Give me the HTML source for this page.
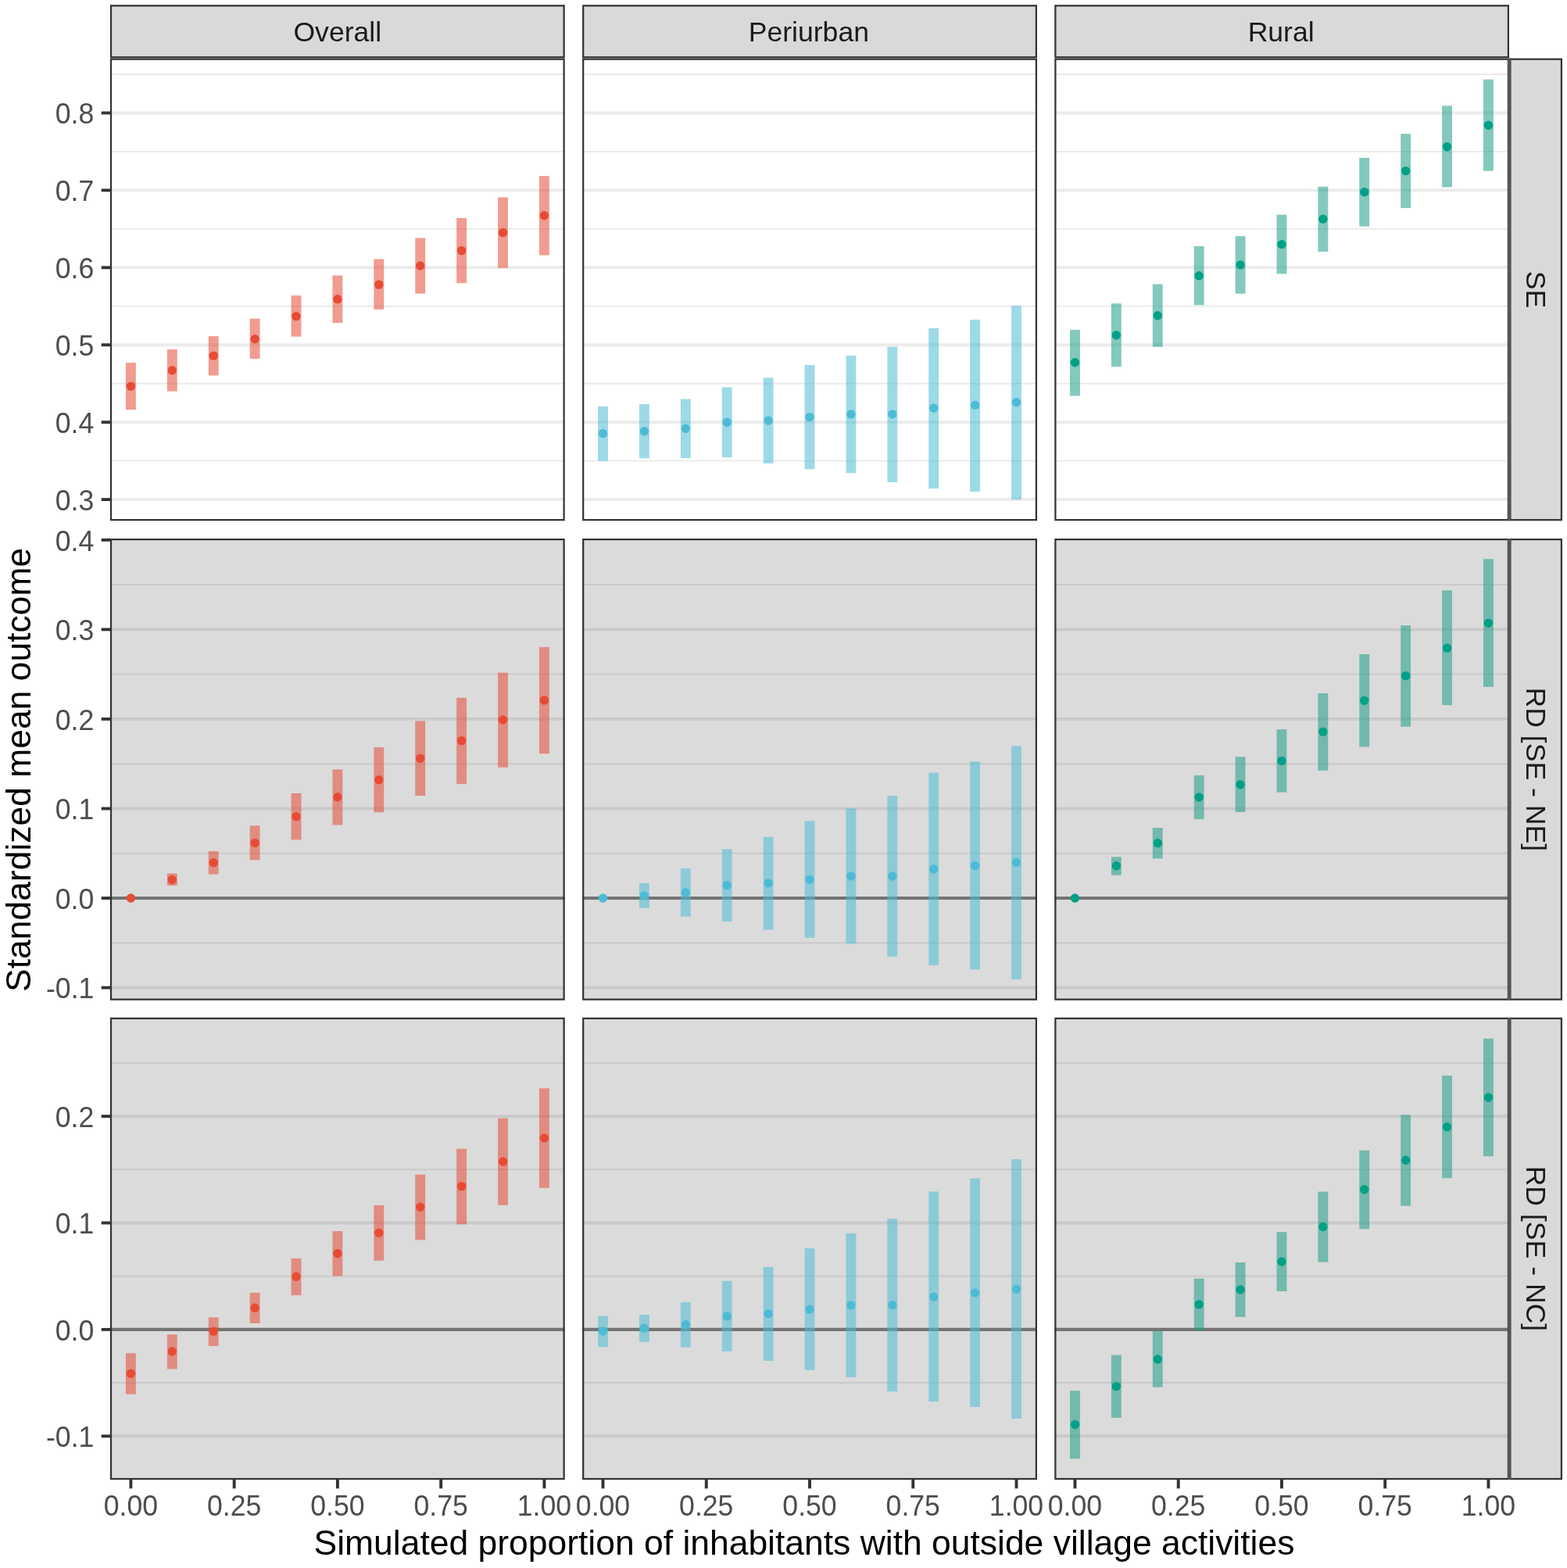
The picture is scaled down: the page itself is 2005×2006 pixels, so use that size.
<!DOCTYPE html>
<html lang="en"><head><meta charset="utf-8"><title>Standardized mean outcome</title>
<style>html,body{margin:0;padding:0;background:#fff}svg{display:block}text{font-family:"Liberation Sans", Arial, Helvetica, sans-serif}</style></head><body>
<svg width="2005" height="2006" viewBox="0 0 2005 2006">
<rect x="0" y="0" width="2005" height="2006" fill="#ffffff"/>
<rect x="140.9" y="6.2" width="581.8" height="68.1" fill="#D9D9D9"/>
<rect x="142" y="7.3" width="579.6" height="65.9" fill="none" stroke="#333333" stroke-width="2.2"/>
<text x="431.8" y="53.3" font-size="35.6" fill="#1A1A1A" text-anchor="middle">Overall</text>
<rect x="745.1" y="6.2" width="581.9" height="68.1" fill="#D9D9D9"/>
<rect x="746.2" y="7.3" width="579.7" height="65.9" fill="none" stroke="#333333" stroke-width="2.2"/>
<text x="1034.85" y="53.3" font-size="35.6" fill="#1A1A1A" text-anchor="middle">Periurban</text>
<rect x="1349.3" y="6.2" width="581.7" height="68.1" fill="#D9D9D9"/>
<rect x="1350.4" y="7.3" width="579.5" height="65.9" fill="none" stroke="#333333" stroke-width="2.2"/>
<text x="1639.15" y="53.3" font-size="35.6" fill="#1A1A1A" text-anchor="middle">Rural</text>
<rect x="1931.2" y="74.6" width="67.8" height="591.65" fill="#D9D9D9"/>
<rect x="1932.3" y="75.7" width="65.6" height="589.45" fill="none" stroke="#333333" stroke-width="2.2"/>
<text transform="translate(1952.8,370.43) rotate(90) scale(1,1.01)" font-size="35.6" fill="#1A1A1A" text-anchor="middle">SE</text>
<rect x="1931.2" y="689" width="67.8" height="590.7" fill="#D9D9D9"/>
<rect x="1932.3" y="690.1" width="65.6" height="588.5" fill="none" stroke="#333333" stroke-width="2.2"/>
<text transform="translate(1952.8,984.35) rotate(90) scale(1,1.01)" font-size="35.6" fill="#1A1A1A" text-anchor="middle">RD [SE - NE]</text>
<rect x="1931.2" y="1301.8" width="67.8" height="591.3" fill="#D9D9D9"/>
<rect x="1932.3" y="1302.9" width="65.6" height="589.1" fill="none" stroke="#333333" stroke-width="2.2"/>
<text transform="translate(1952.8,1597.45) rotate(90) scale(1,1.01)" font-size="35.6" fill="#1A1A1A" text-anchor="middle">RD [SE - NC]</text>
<g>
<line x1="140.9" x2="722.7" y1="95.05" y2="95.05" stroke="#EBEBEB" stroke-width="2.0"/>
<line x1="140.9" x2="722.7" y1="193.96" y2="193.96" stroke="#EBEBEB" stroke-width="2.0"/>
<line x1="140.9" x2="722.7" y1="292.87" y2="292.87" stroke="#EBEBEB" stroke-width="2.0"/>
<line x1="140.9" x2="722.7" y1="391.78" y2="391.78" stroke="#EBEBEB" stroke-width="2.0"/>
<line x1="140.9" x2="722.7" y1="490.7" y2="490.7" stroke="#EBEBEB" stroke-width="2.0"/>
<line x1="140.9" x2="722.7" y1="589.6" y2="589.6" stroke="#EBEBEB" stroke-width="2.0"/>
<line x1="140.9" x2="722.7" y1="144.5" y2="144.5" stroke="#EBEBEB" stroke-width="3.9"/>
<line x1="140.9" x2="722.7" y1="243.41" y2="243.41" stroke="#EBEBEB" stroke-width="3.9"/>
<line x1="140.9" x2="722.7" y1="342.32" y2="342.32" stroke="#EBEBEB" stroke-width="3.9"/>
<line x1="140.9" x2="722.7" y1="441.23" y2="441.23" stroke="#EBEBEB" stroke-width="3.9"/>
<line x1="140.9" x2="722.7" y1="540.14" y2="540.14" stroke="#EBEBEB" stroke-width="3.9"/>
<line x1="140.9" x2="722.7" y1="639.05" y2="639.05" stroke="#EBEBEB" stroke-width="3.9"/>
<rect x="160.95" y="464.1" width="12.9" height="60.1" fill="#E64B35" fill-opacity="0.55"/>
<rect x="213.85" y="447" width="12.9" height="53.6" fill="#E64B35" fill-opacity="0.55"/>
<rect x="266.75" y="430.1" width="12.9" height="50.3" fill="#E64B35" fill-opacity="0.55"/>
<rect x="319.65" y="407.7" width="12.9" height="51.3" fill="#E64B35" fill-opacity="0.55"/>
<rect x="372.55" y="378" width="12.9" height="52.7" fill="#E64B35" fill-opacity="0.55"/>
<rect x="425.45" y="352.45" width="12.9" height="60.55" fill="#E64B35" fill-opacity="0.55"/>
<rect x="478.35" y="331.5" width="12.9" height="64.4" fill="#E64B35" fill-opacity="0.55"/>
<rect x="531.25" y="304.4" width="12.9" height="71.3" fill="#E64B35" fill-opacity="0.55"/>
<rect x="584.15" y="279" width="12.9" height="83.2" fill="#E64B35" fill-opacity="0.55"/>
<rect x="637.05" y="252.4" width="12.9" height="90.3" fill="#E64B35" fill-opacity="0.55"/>
<rect x="689.95" y="225.2" width="12.9" height="101.3" fill="#E64B35" fill-opacity="0.55"/>
<circle cx="167.4" cy="494.1" r="5.7" fill="#E64B35"/>
<circle cx="220.3" cy="473.7" r="5.7" fill="#E64B35"/>
<circle cx="273.2" cy="455.1" r="5.7" fill="#E64B35"/>
<circle cx="326.1" cy="433.8" r="5.7" fill="#E64B35"/>
<circle cx="379" cy="404.6" r="5.7" fill="#E64B35"/>
<circle cx="431.9" cy="382.75" r="5.7" fill="#E64B35"/>
<circle cx="484.8" cy="364.1" r="5.7" fill="#E64B35"/>
<circle cx="537.7" cy="340" r="5.7" fill="#E64B35"/>
<circle cx="590.6" cy="320.6" r="5.7" fill="#E64B35"/>
<circle cx="643.5" cy="297.6" r="5.7" fill="#E64B35"/>
<circle cx="696.4" cy="275.7" r="5.7" fill="#E64B35"/>
<rect x="142" y="75.7" width="579.6" height="589.45" fill="none" stroke="#333333" stroke-width="2.2"/>
</g>
<g>
<line x1="745.1" x2="1327" y1="95.05" y2="95.05" stroke="#EBEBEB" stroke-width="2.0"/>
<line x1="745.1" x2="1327" y1="193.96" y2="193.96" stroke="#EBEBEB" stroke-width="2.0"/>
<line x1="745.1" x2="1327" y1="292.87" y2="292.87" stroke="#EBEBEB" stroke-width="2.0"/>
<line x1="745.1" x2="1327" y1="391.78" y2="391.78" stroke="#EBEBEB" stroke-width="2.0"/>
<line x1="745.1" x2="1327" y1="490.7" y2="490.7" stroke="#EBEBEB" stroke-width="2.0"/>
<line x1="745.1" x2="1327" y1="589.6" y2="589.6" stroke="#EBEBEB" stroke-width="2.0"/>
<line x1="745.1" x2="1327" y1="144.5" y2="144.5" stroke="#EBEBEB" stroke-width="3.9"/>
<line x1="745.1" x2="1327" y1="243.41" y2="243.41" stroke="#EBEBEB" stroke-width="3.9"/>
<line x1="745.1" x2="1327" y1="342.32" y2="342.32" stroke="#EBEBEB" stroke-width="3.9"/>
<line x1="745.1" x2="1327" y1="441.23" y2="441.23" stroke="#EBEBEB" stroke-width="3.9"/>
<line x1="745.1" x2="1327" y1="540.14" y2="540.14" stroke="#EBEBEB" stroke-width="3.9"/>
<line x1="745.1" x2="1327" y1="639.05" y2="639.05" stroke="#EBEBEB" stroke-width="3.9"/>
<rect x="765.05" y="520" width="12.9" height="69.7" fill="#4DBBD5" fill-opacity="0.55"/>
<rect x="817.95" y="517" width="12.9" height="69.3" fill="#4DBBD5" fill-opacity="0.55"/>
<rect x="870.85" y="510.5" width="12.9" height="75.5" fill="#4DBBD5" fill-opacity="0.55"/>
<rect x="923.75" y="495.4" width="12.9" height="89.7" fill="#4DBBD5" fill-opacity="0.55"/>
<rect x="976.65" y="483.3" width="12.9" height="109.5" fill="#4DBBD5" fill-opacity="0.55"/>
<rect x="1029.55" y="467" width="12.9" height="133.3" fill="#4DBBD5" fill-opacity="0.55"/>
<rect x="1082.45" y="454.9" width="12.9" height="150.4" fill="#4DBBD5" fill-opacity="0.55"/>
<rect x="1135.35" y="443.7" width="12.9" height="173.2" fill="#4DBBD5" fill-opacity="0.55"/>
<rect x="1188.25" y="419.9" width="12.9" height="205.2" fill="#4DBBD5" fill-opacity="0.55"/>
<rect x="1241.15" y="408.9" width="12.9" height="220" fill="#4DBBD5" fill-opacity="0.55"/>
<rect x="1294.05" y="391.2" width="12.9" height="247.9" fill="#4DBBD5" fill-opacity="0.55"/>
<circle cx="771.5" cy="554.5" r="5.7" fill="#4DBBD5"/>
<circle cx="824.4" cy="551.7" r="5.7" fill="#4DBBD5"/>
<circle cx="877.3" cy="548.2" r="5.7" fill="#4DBBD5"/>
<circle cx="930.2" cy="540.3" r="5.7" fill="#4DBBD5"/>
<circle cx="983.1" cy="538" r="5.7" fill="#4DBBD5"/>
<circle cx="1036" cy="533.65" r="5.7" fill="#4DBBD5"/>
<circle cx="1088.9" cy="529.9" r="5.7" fill="#4DBBD5"/>
<circle cx="1141.8" cy="529.9" r="5.7" fill="#4DBBD5"/>
<circle cx="1194.7" cy="522.1" r="5.7" fill="#4DBBD5"/>
<circle cx="1247.6" cy="518.4" r="5.7" fill="#4DBBD5"/>
<circle cx="1300.5" cy="514.8" r="5.7" fill="#4DBBD5"/>
<rect x="746.2" y="75.7" width="579.7" height="589.45" fill="none" stroke="#333333" stroke-width="2.2"/>
</g>
<g>
<line x1="1349.3" x2="1931" y1="95.05" y2="95.05" stroke="#EBEBEB" stroke-width="2.0"/>
<line x1="1349.3" x2="1931" y1="193.96" y2="193.96" stroke="#EBEBEB" stroke-width="2.0"/>
<line x1="1349.3" x2="1931" y1="292.87" y2="292.87" stroke="#EBEBEB" stroke-width="2.0"/>
<line x1="1349.3" x2="1931" y1="391.78" y2="391.78" stroke="#EBEBEB" stroke-width="2.0"/>
<line x1="1349.3" x2="1931" y1="490.7" y2="490.7" stroke="#EBEBEB" stroke-width="2.0"/>
<line x1="1349.3" x2="1931" y1="589.6" y2="589.6" stroke="#EBEBEB" stroke-width="2.0"/>
<line x1="1349.3" x2="1931" y1="144.5" y2="144.5" stroke="#EBEBEB" stroke-width="3.9"/>
<line x1="1349.3" x2="1931" y1="243.41" y2="243.41" stroke="#EBEBEB" stroke-width="3.9"/>
<line x1="1349.3" x2="1931" y1="342.32" y2="342.32" stroke="#EBEBEB" stroke-width="3.9"/>
<line x1="1349.3" x2="1931" y1="441.23" y2="441.23" stroke="#EBEBEB" stroke-width="3.9"/>
<line x1="1349.3" x2="1931" y1="540.14" y2="540.14" stroke="#EBEBEB" stroke-width="3.9"/>
<line x1="1349.3" x2="1931" y1="639.05" y2="639.05" stroke="#EBEBEB" stroke-width="3.9"/>
<rect x="1369" y="421.9" width="12.9" height="84.6" fill="#1E9D86" fill-opacity="0.55"/>
<rect x="1421.9" y="388.2" width="12.9" height="80.9" fill="#1E9D86" fill-opacity="0.55"/>
<rect x="1474.8" y="363.6" width="12.9" height="80.2" fill="#1E9D86" fill-opacity="0.55"/>
<rect x="1527.7" y="315" width="12.9" height="75.2" fill="#1E9D86" fill-opacity="0.55"/>
<rect x="1580.6" y="302.1" width="12.9" height="73.6" fill="#1E9D86" fill-opacity="0.55"/>
<rect x="1633.5" y="274.75" width="12.9" height="75.55" fill="#1E9D86" fill-opacity="0.55"/>
<rect x="1686.4" y="238.8" width="12.9" height="83.2" fill="#1E9D86" fill-opacity="0.55"/>
<rect x="1739.3" y="201.9" width="12.9" height="87.8" fill="#1E9D86" fill-opacity="0.55"/>
<rect x="1792.2" y="171.2" width="12.9" height="94.9" fill="#1E9D86" fill-opacity="0.55"/>
<rect x="1845.1" y="135.3" width="12.9" height="104.2" fill="#1E9D86" fill-opacity="0.55"/>
<rect x="1898" y="101.6" width="12.9" height="117.1" fill="#1E9D86" fill-opacity="0.55"/>
<circle cx="1375.45" cy="463.8" r="5.7" fill="#00A087"/>
<circle cx="1428.35" cy="428.7" r="5.7" fill="#00A087"/>
<circle cx="1481.25" cy="403.7" r="5.7" fill="#00A087"/>
<circle cx="1534.15" cy="352.7" r="5.7" fill="#00A087"/>
<circle cx="1587.05" cy="338.9" r="5.7" fill="#00A087"/>
<circle cx="1639.95" cy="312.65" r="5.7" fill="#00A087"/>
<circle cx="1692.85" cy="280.2" r="5.7" fill="#00A087"/>
<circle cx="1745.75" cy="245.8" r="5.7" fill="#00A087"/>
<circle cx="1798.65" cy="218.6" r="5.7" fill="#00A087"/>
<circle cx="1851.55" cy="187.8" r="5.7" fill="#00A087"/>
<circle cx="1904.45" cy="160.3" r="5.7" fill="#00A087"/>
<rect x="1350.4" y="75.7" width="579.5" height="589.45" fill="none" stroke="#333333" stroke-width="2.2"/>
</g>
<line x1="129.7" x2="141.2" y1="144.5" y2="144.5" stroke="#333333" stroke-width="3.9"/>
<text transform="translate(120.3,158.3) scale(1,1.04)" font-size="35.6" fill="#4D4D4D" text-anchor="end">0.8</text>
<line x1="129.7" x2="141.2" y1="243.41" y2="243.41" stroke="#333333" stroke-width="3.9"/>
<text transform="translate(120.3,257.21) scale(1,1.04)" font-size="35.6" fill="#4D4D4D" text-anchor="end">0.7</text>
<line x1="129.7" x2="141.2" y1="342.32" y2="342.32" stroke="#333333" stroke-width="3.9"/>
<text transform="translate(120.3,356.12) scale(1,1.04)" font-size="35.6" fill="#4D4D4D" text-anchor="end">0.6</text>
<line x1="129.7" x2="141.2" y1="441.23" y2="441.23" stroke="#333333" stroke-width="3.9"/>
<text transform="translate(120.3,455.03) scale(1,1.04)" font-size="35.6" fill="#4D4D4D" text-anchor="end">0.5</text>
<line x1="129.7" x2="141.2" y1="540.14" y2="540.14" stroke="#333333" stroke-width="3.9"/>
<text transform="translate(120.3,553.94) scale(1,1.04)" font-size="35.6" fill="#4D4D4D" text-anchor="end">0.4</text>
<line x1="129.7" x2="141.2" y1="639.05" y2="639.05" stroke="#333333" stroke-width="3.9"/>
<text transform="translate(120.3,652.85) scale(1,1.04)" font-size="35.6" fill="#4D4D4D" text-anchor="end">0.3</text>
<g>
<line x1="140.9" x2="722.7" y1="748.1" y2="748.1" stroke="#EBEBEB" stroke-width="2.0"/>
<line x1="140.9" x2="722.7" y1="862.6" y2="862.6" stroke="#EBEBEB" stroke-width="2.0"/>
<line x1="140.9" x2="722.7" y1="977.2" y2="977.2" stroke="#EBEBEB" stroke-width="2.0"/>
<line x1="140.9" x2="722.7" y1="1091.7" y2="1091.7" stroke="#EBEBEB" stroke-width="2.0"/>
<line x1="140.9" x2="722.7" y1="1206.3" y2="1206.3" stroke="#EBEBEB" stroke-width="2.0"/>
<line x1="140.9" x2="722.7" y1="805.35" y2="805.35" stroke="#EBEBEB" stroke-width="3.9"/>
<line x1="140.9" x2="722.7" y1="919.9" y2="919.9" stroke="#EBEBEB" stroke-width="3.9"/>
<line x1="140.9" x2="722.7" y1="1034.45" y2="1034.45" stroke="#EBEBEB" stroke-width="3.9"/>
<line x1="140.9" x2="722.7" y1="1149" y2="1149" stroke="#EBEBEB" stroke-width="3.9"/>
<line x1="140.9" x2="722.7" y1="1263.55" y2="1263.55" stroke="#EBEBEB" stroke-width="3.9"/>
<rect x="140.9" y="689" width="581.8" height="590.7" fill="#000000" fill-opacity="0.14"/>
<line x1="140.9" x2="722.7" y1="1149" y2="1149" stroke="#737373" stroke-width="4.2"/>
<rect x="213.85" y="1117.5" width="12.9" height="15.4" fill="#E64B35" fill-opacity="0.55"/>
<rect x="266.75" y="1089" width="12.9" height="29.6" fill="#E64B35" fill-opacity="0.55"/>
<rect x="319.65" y="1056.3" width="12.9" height="43.8" fill="#E64B35" fill-opacity="0.55"/>
<rect x="372.55" y="1014.9" width="12.9" height="59.5" fill="#E64B35" fill-opacity="0.55"/>
<rect x="425.45" y="984.4" width="12.9" height="71.1" fill="#E64B35" fill-opacity="0.55"/>
<rect x="478.35" y="956.1" width="12.9" height="83.1" fill="#E64B35" fill-opacity="0.55"/>
<rect x="531.25" y="922.4" width="12.9" height="95.6" fill="#E64B35" fill-opacity="0.55"/>
<rect x="584.15" y="892.7" width="12.9" height="110.2" fill="#E64B35" fill-opacity="0.55"/>
<rect x="637.05" y="860.6" width="12.9" height="121.2" fill="#E64B35" fill-opacity="0.55"/>
<rect x="689.95" y="827.8" width="12.9" height="136.4" fill="#E64B35" fill-opacity="0.55"/>
<circle cx="167.4" cy="1149" r="5.7" fill="#E64B35"/>
<circle cx="220.3" cy="1125.5" r="5.7" fill="#E64B35"/>
<circle cx="273.2" cy="1103.6" r="5.7" fill="#E64B35"/>
<circle cx="326.1" cy="1078.4" r="5.7" fill="#E64B35"/>
<circle cx="379" cy="1044.7" r="5.7" fill="#E64B35"/>
<circle cx="431.9" cy="1019.8" r="5.7" fill="#E64B35"/>
<circle cx="484.8" cy="997.6" r="5.7" fill="#E64B35"/>
<circle cx="537.7" cy="970.1" r="5.7" fill="#E64B35"/>
<circle cx="590.6" cy="947.6" r="5.7" fill="#E64B35"/>
<circle cx="643.5" cy="921" r="5.7" fill="#E64B35"/>
<circle cx="696.4" cy="895.9" r="5.7" fill="#E64B35"/>
<rect x="142" y="690.1" width="579.6" height="588.5" fill="none" stroke="#333333" stroke-width="2.2"/>
</g>
<g>
<line x1="745.1" x2="1327" y1="748.1" y2="748.1" stroke="#EBEBEB" stroke-width="2.0"/>
<line x1="745.1" x2="1327" y1="862.6" y2="862.6" stroke="#EBEBEB" stroke-width="2.0"/>
<line x1="745.1" x2="1327" y1="977.2" y2="977.2" stroke="#EBEBEB" stroke-width="2.0"/>
<line x1="745.1" x2="1327" y1="1091.7" y2="1091.7" stroke="#EBEBEB" stroke-width="2.0"/>
<line x1="745.1" x2="1327" y1="1206.3" y2="1206.3" stroke="#EBEBEB" stroke-width="2.0"/>
<line x1="745.1" x2="1327" y1="805.35" y2="805.35" stroke="#EBEBEB" stroke-width="3.9"/>
<line x1="745.1" x2="1327" y1="919.9" y2="919.9" stroke="#EBEBEB" stroke-width="3.9"/>
<line x1="745.1" x2="1327" y1="1034.45" y2="1034.45" stroke="#EBEBEB" stroke-width="3.9"/>
<line x1="745.1" x2="1327" y1="1149" y2="1149" stroke="#EBEBEB" stroke-width="3.9"/>
<line x1="745.1" x2="1327" y1="1263.55" y2="1263.55" stroke="#EBEBEB" stroke-width="3.9"/>
<rect x="745.1" y="689" width="581.9" height="590.7" fill="#000000" fill-opacity="0.14"/>
<line x1="745.1" x2="1327" y1="1149" y2="1149" stroke="#737373" stroke-width="4.2"/>
<rect x="817.95" y="1129.9" width="12.9" height="31.9" fill="#4DBBD5" fill-opacity="0.55"/>
<rect x="870.85" y="1111" width="12.9" height="61.6" fill="#4DBBD5" fill-opacity="0.55"/>
<rect x="923.75" y="1086.4" width="12.9" height="92.6" fill="#4DBBD5" fill-opacity="0.55"/>
<rect x="976.65" y="1070.7" width="12.9" height="118.7" fill="#4DBBD5" fill-opacity="0.55"/>
<rect x="1029.55" y="1050.3" width="12.9" height="149.45" fill="#4DBBD5" fill-opacity="0.55"/>
<rect x="1082.45" y="1034.3" width="12.9" height="173" fill="#4DBBD5" fill-opacity="0.55"/>
<rect x="1135.35" y="1018.1" width="12.9" height="205.6" fill="#4DBBD5" fill-opacity="0.55"/>
<rect x="1188.25" y="988.7" width="12.9" height="246.1" fill="#4DBBD5" fill-opacity="0.55"/>
<rect x="1241.15" y="974.3" width="12.9" height="266" fill="#4DBBD5" fill-opacity="0.55"/>
<rect x="1294.05" y="954.3" width="12.9" height="298.6" fill="#4DBBD5" fill-opacity="0.55"/>
<circle cx="771.5" cy="1149" r="5.7" fill="#4DBBD5"/>
<circle cx="824.4" cy="1145.9" r="5.7" fill="#4DBBD5"/>
<circle cx="877.3" cy="1141.9" r="5.7" fill="#4DBBD5"/>
<circle cx="930.2" cy="1132.7" r="5.7" fill="#4DBBD5"/>
<circle cx="983.1" cy="1129.9" r="5.7" fill="#4DBBD5"/>
<circle cx="1036" cy="1125.2" r="5.7" fill="#4DBBD5"/>
<circle cx="1088.9" cy="1121" r="5.7" fill="#4DBBD5"/>
<circle cx="1141.8" cy="1121" r="5.7" fill="#4DBBD5"/>
<circle cx="1194.7" cy="1111.9" r="5.7" fill="#4DBBD5"/>
<circle cx="1247.6" cy="1107.4" r="5.7" fill="#4DBBD5"/>
<circle cx="1300.5" cy="1103.4" r="5.7" fill="#4DBBD5"/>
<rect x="746.2" y="690.1" width="579.7" height="588.5" fill="none" stroke="#333333" stroke-width="2.2"/>
</g>
<g>
<line x1="1349.3" x2="1931" y1="748.1" y2="748.1" stroke="#EBEBEB" stroke-width="2.0"/>
<line x1="1349.3" x2="1931" y1="862.6" y2="862.6" stroke="#EBEBEB" stroke-width="2.0"/>
<line x1="1349.3" x2="1931" y1="977.2" y2="977.2" stroke="#EBEBEB" stroke-width="2.0"/>
<line x1="1349.3" x2="1931" y1="1091.7" y2="1091.7" stroke="#EBEBEB" stroke-width="2.0"/>
<line x1="1349.3" x2="1931" y1="1206.3" y2="1206.3" stroke="#EBEBEB" stroke-width="2.0"/>
<line x1="1349.3" x2="1931" y1="805.35" y2="805.35" stroke="#EBEBEB" stroke-width="3.9"/>
<line x1="1349.3" x2="1931" y1="919.9" y2="919.9" stroke="#EBEBEB" stroke-width="3.9"/>
<line x1="1349.3" x2="1931" y1="1034.45" y2="1034.45" stroke="#EBEBEB" stroke-width="3.9"/>
<line x1="1349.3" x2="1931" y1="1149" y2="1149" stroke="#EBEBEB" stroke-width="3.9"/>
<line x1="1349.3" x2="1931" y1="1263.55" y2="1263.55" stroke="#EBEBEB" stroke-width="3.9"/>
<rect x="1349.3" y="689" width="581.7" height="590.7" fill="#000000" fill-opacity="0.14"/>
<line x1="1349.3" x2="1931" y1="1149" y2="1149" stroke="#737373" stroke-width="4.2"/>
<rect x="1421.9" y="1096.3" width="12.9" height="23.3" fill="#1E9D86" fill-opacity="0.55"/>
<rect x="1474.8" y="1059" width="12.9" height="39.3" fill="#1E9D86" fill-opacity="0.55"/>
<rect x="1527.7" y="991.9" width="12.9" height="56.1" fill="#1E9D86" fill-opacity="0.55"/>
<rect x="1580.6" y="968.2" width="12.9" height="70.8" fill="#1E9D86" fill-opacity="0.55"/>
<rect x="1633.5" y="933.15" width="12.9" height="80.5" fill="#1E9D86" fill-opacity="0.55"/>
<rect x="1686.4" y="887" width="12.9" height="98.8" fill="#1E9D86" fill-opacity="0.55"/>
<rect x="1739.3" y="837" width="12.9" height="118.5" fill="#1E9D86" fill-opacity="0.55"/>
<rect x="1792.2" y="800.1" width="12.9" height="129.5" fill="#1E9D86" fill-opacity="0.55"/>
<rect x="1845.1" y="755.3" width="12.9" height="146.8" fill="#1E9D86" fill-opacity="0.55"/>
<rect x="1898" y="715.2" width="12.9" height="163.6" fill="#1E9D86" fill-opacity="0.55"/>
<circle cx="1375.45" cy="1149" r="5.7" fill="#00A087"/>
<circle cx="1428.35" cy="1107.7" r="5.7" fill="#00A087"/>
<circle cx="1481.25" cy="1078.6" r="5.7" fill="#00A087"/>
<circle cx="1534.15" cy="1019.9" r="5.7" fill="#00A087"/>
<circle cx="1587.05" cy="1003.7" r="5.7" fill="#00A087"/>
<circle cx="1639.95" cy="973.35" r="5.7" fill="#00A087"/>
<circle cx="1692.85" cy="936.1" r="5.7" fill="#00A087"/>
<circle cx="1745.75" cy="896.2" r="5.7" fill="#00A087"/>
<circle cx="1798.65" cy="864.6" r="5.7" fill="#00A087"/>
<circle cx="1851.55" cy="829.1" r="5.7" fill="#00A087"/>
<circle cx="1904.45" cy="797.25" r="5.7" fill="#00A087"/>
<rect x="1350.4" y="690.1" width="579.5" height="588.5" fill="none" stroke="#333333" stroke-width="2.2"/>
</g>
<line x1="129.7" x2="141.2" y1="690.8" y2="690.8" stroke="#333333" stroke-width="3.9"/>
<text transform="translate(120.3,704.6) scale(1,1.04)" font-size="35.6" fill="#4D4D4D" text-anchor="end">0.4</text>
<line x1="129.7" x2="141.2" y1="805.35" y2="805.35" stroke="#333333" stroke-width="3.9"/>
<text transform="translate(120.3,819.15) scale(1,1.04)" font-size="35.6" fill="#4D4D4D" text-anchor="end">0.3</text>
<line x1="129.7" x2="141.2" y1="919.9" y2="919.9" stroke="#333333" stroke-width="3.9"/>
<text transform="translate(120.3,933.7) scale(1,1.04)" font-size="35.6" fill="#4D4D4D" text-anchor="end">0.2</text>
<line x1="129.7" x2="141.2" y1="1034.45" y2="1034.45" stroke="#333333" stroke-width="3.9"/>
<text transform="translate(120.3,1048.25) scale(1,1.04)" font-size="35.6" fill="#4D4D4D" text-anchor="end">0.1</text>
<line x1="129.7" x2="141.2" y1="1149" y2="1149" stroke="#333333" stroke-width="3.9"/>
<text transform="translate(120.3,1162.8) scale(1,1.04)" font-size="35.6" fill="#4D4D4D" text-anchor="end">0.0</text>
<line x1="129.7" x2="141.2" y1="1263.55" y2="1263.55" stroke="#333333" stroke-width="3.9"/>
<text transform="translate(120.3,1277.35) scale(1,1.04)" font-size="35.6" fill="#4D4D4D" text-anchor="end">-0.1</text>
<g>
<line x1="140.9" x2="722.7" y1="1359.9" y2="1359.9" stroke="#EBEBEB" stroke-width="2.0"/>
<line x1="140.9" x2="722.7" y1="1496.3" y2="1496.3" stroke="#EBEBEB" stroke-width="2.0"/>
<line x1="140.9" x2="722.7" y1="1632.7" y2="1632.7" stroke="#EBEBEB" stroke-width="2.0"/>
<line x1="140.9" x2="722.7" y1="1769.1" y2="1769.1" stroke="#EBEBEB" stroke-width="2.0"/>
<line x1="140.9" x2="722.7" y1="1428.1" y2="1428.1" stroke="#EBEBEB" stroke-width="3.9"/>
<line x1="140.9" x2="722.7" y1="1564.5" y2="1564.5" stroke="#EBEBEB" stroke-width="3.9"/>
<line x1="140.9" x2="722.7" y1="1700.9" y2="1700.9" stroke="#EBEBEB" stroke-width="3.9"/>
<line x1="140.9" x2="722.7" y1="1837.3" y2="1837.3" stroke="#EBEBEB" stroke-width="3.9"/>
<rect x="140.9" y="1301.8" width="581.8" height="591.3" fill="#000000" fill-opacity="0.14"/>
<line x1="140.9" x2="722.7" y1="1700.9" y2="1700.9" stroke="#737373" stroke-width="4.2"/>
<rect x="160.95" y="1731.2" width="12.9" height="52.5" fill="#E64B35" fill-opacity="0.55"/>
<rect x="213.85" y="1707.3" width="12.9" height="44.1" fill="#E64B35" fill-opacity="0.55"/>
<rect x="266.75" y="1685.4" width="12.9" height="36.5" fill="#E64B35" fill-opacity="0.55"/>
<rect x="319.65" y="1653.7" width="12.9" height="39.3" fill="#E64B35" fill-opacity="0.55"/>
<rect x="372.55" y="1609.9" width="12.9" height="47.2" fill="#E64B35" fill-opacity="0.55"/>
<rect x="425.45" y="1575.05" width="12.9" height="57.4" fill="#E64B35" fill-opacity="0.55"/>
<rect x="478.35" y="1542" width="12.9" height="70.7" fill="#E64B35" fill-opacity="0.55"/>
<rect x="531.25" y="1502.6" width="12.9" height="83.7" fill="#E64B35" fill-opacity="0.55"/>
<rect x="584.15" y="1469.8" width="12.9" height="96.5" fill="#E64B35" fill-opacity="0.55"/>
<rect x="637.05" y="1430.6" width="12.9" height="111.1" fill="#E64B35" fill-opacity="0.55"/>
<rect x="689.95" y="1392.3" width="12.9" height="127.4" fill="#E64B35" fill-opacity="0.55"/>
<circle cx="167.4" cy="1757.3" r="5.7" fill="#E64B35"/>
<circle cx="220.3" cy="1729" r="5.7" fill="#E64B35"/>
<circle cx="273.2" cy="1703.1" r="5.7" fill="#E64B35"/>
<circle cx="326.1" cy="1673.3" r="5.7" fill="#E64B35"/>
<circle cx="379" cy="1633.2" r="5.7" fill="#E64B35"/>
<circle cx="431.9" cy="1603.75" r="5.7" fill="#E64B35"/>
<circle cx="484.8" cy="1577.3" r="5.7" fill="#E64B35"/>
<circle cx="537.7" cy="1544.2" r="5.7" fill="#E64B35"/>
<circle cx="590.6" cy="1517.6" r="5.7" fill="#E64B35"/>
<circle cx="643.5" cy="1486" r="5.7" fill="#E64B35"/>
<circle cx="696.4" cy="1456" r="5.7" fill="#E64B35"/>
<rect x="142" y="1302.9" width="579.6" height="589.1" fill="none" stroke="#333333" stroke-width="2.2"/>
</g>
<g>
<line x1="745.1" x2="1327" y1="1359.9" y2="1359.9" stroke="#EBEBEB" stroke-width="2.0"/>
<line x1="745.1" x2="1327" y1="1496.3" y2="1496.3" stroke="#EBEBEB" stroke-width="2.0"/>
<line x1="745.1" x2="1327" y1="1632.7" y2="1632.7" stroke="#EBEBEB" stroke-width="2.0"/>
<line x1="745.1" x2="1327" y1="1769.1" y2="1769.1" stroke="#EBEBEB" stroke-width="2.0"/>
<line x1="745.1" x2="1327" y1="1428.1" y2="1428.1" stroke="#EBEBEB" stroke-width="3.9"/>
<line x1="745.1" x2="1327" y1="1564.5" y2="1564.5" stroke="#EBEBEB" stroke-width="3.9"/>
<line x1="745.1" x2="1327" y1="1700.9" y2="1700.9" stroke="#EBEBEB" stroke-width="3.9"/>
<line x1="745.1" x2="1327" y1="1837.3" y2="1837.3" stroke="#EBEBEB" stroke-width="3.9"/>
<rect x="745.1" y="1301.8" width="581.9" height="591.3" fill="#000000" fill-opacity="0.14"/>
<line x1="745.1" x2="1327" y1="1700.9" y2="1700.9" stroke="#737373" stroke-width="4.2"/>
<rect x="765.05" y="1683.7" width="12.9" height="39.6" fill="#4DBBD5" fill-opacity="0.55"/>
<rect x="817.95" y="1682.1" width="12.9" height="34.7" fill="#4DBBD5" fill-opacity="0.55"/>
<rect x="870.85" y="1666" width="12.9" height="57.6" fill="#4DBBD5" fill-opacity="0.55"/>
<rect x="923.75" y="1638.8" width="12.9" height="90.1" fill="#4DBBD5" fill-opacity="0.55"/>
<rect x="976.65" y="1620.9" width="12.9" height="120" fill="#4DBBD5" fill-opacity="0.55"/>
<rect x="1029.55" y="1597" width="12.9" height="155.8" fill="#4DBBD5" fill-opacity="0.55"/>
<rect x="1082.45" y="1577.8" width="12.9" height="184.1" fill="#4DBBD5" fill-opacity="0.55"/>
<rect x="1135.35" y="1559.1" width="12.9" height="221.1" fill="#4DBBD5" fill-opacity="0.55"/>
<rect x="1188.25" y="1524.4" width="12.9" height="268.7" fill="#4DBBD5" fill-opacity="0.55"/>
<rect x="1241.15" y="1507.5" width="12.9" height="292.5" fill="#4DBBD5" fill-opacity="0.55"/>
<rect x="1294.05" y="1483.1" width="12.9" height="331.8" fill="#4DBBD5" fill-opacity="0.55"/>
<circle cx="771.5" cy="1703" r="5.7" fill="#4DBBD5"/>
<circle cx="824.4" cy="1699.2" r="5.7" fill="#4DBBD5"/>
<circle cx="877.3" cy="1694.7" r="5.7" fill="#4DBBD5"/>
<circle cx="930.2" cy="1684" r="5.7" fill="#4DBBD5"/>
<circle cx="983.1" cy="1680.7" r="5.7" fill="#4DBBD5"/>
<circle cx="1036" cy="1675.15" r="5.7" fill="#4DBBD5"/>
<circle cx="1088.9" cy="1669.9" r="5.7" fill="#4DBBD5"/>
<circle cx="1141.8" cy="1669.5" r="5.7" fill="#4DBBD5"/>
<circle cx="1194.7" cy="1659.2" r="5.7" fill="#4DBBD5"/>
<circle cx="1247.6" cy="1654" r="5.7" fill="#4DBBD5"/>
<circle cx="1300.5" cy="1649.2" r="5.7" fill="#4DBBD5"/>
<rect x="746.2" y="1302.9" width="579.7" height="589.1" fill="none" stroke="#333333" stroke-width="2.2"/>
</g>
<g>
<line x1="1349.3" x2="1931" y1="1359.9" y2="1359.9" stroke="#EBEBEB" stroke-width="2.0"/>
<line x1="1349.3" x2="1931" y1="1496.3" y2="1496.3" stroke="#EBEBEB" stroke-width="2.0"/>
<line x1="1349.3" x2="1931" y1="1632.7" y2="1632.7" stroke="#EBEBEB" stroke-width="2.0"/>
<line x1="1349.3" x2="1931" y1="1769.1" y2="1769.1" stroke="#EBEBEB" stroke-width="2.0"/>
<line x1="1349.3" x2="1931" y1="1428.1" y2="1428.1" stroke="#EBEBEB" stroke-width="3.9"/>
<line x1="1349.3" x2="1931" y1="1564.5" y2="1564.5" stroke="#EBEBEB" stroke-width="3.9"/>
<line x1="1349.3" x2="1931" y1="1700.9" y2="1700.9" stroke="#EBEBEB" stroke-width="3.9"/>
<line x1="1349.3" x2="1931" y1="1837.3" y2="1837.3" stroke="#EBEBEB" stroke-width="3.9"/>
<rect x="1349.3" y="1301.8" width="581.7" height="591.3" fill="#000000" fill-opacity="0.14"/>
<line x1="1349.3" x2="1931" y1="1700.9" y2="1700.9" stroke="#737373" stroke-width="4.2"/>
<rect x="1369" y="1779.2" width="12.9" height="87" fill="#1E9D86" fill-opacity="0.55"/>
<rect x="1421.9" y="1733.5" width="12.9" height="80.3" fill="#1E9D86" fill-opacity="0.55"/>
<rect x="1474.8" y="1703.1" width="12.9" height="71.6" fill="#1E9D86" fill-opacity="0.55"/>
<rect x="1527.7" y="1635.6" width="12.9" height="66.7" fill="#1E9D86" fill-opacity="0.55"/>
<rect x="1580.6" y="1615.1" width="12.9" height="69.8" fill="#1E9D86" fill-opacity="0.55"/>
<rect x="1633.5" y="1576.2" width="12.9" height="75.8" fill="#1E9D86" fill-opacity="0.55"/>
<rect x="1686.4" y="1524.6" width="12.9" height="90" fill="#1E9D86" fill-opacity="0.55"/>
<rect x="1739.3" y="1471.7" width="12.9" height="100.6" fill="#1E9D86" fill-opacity="0.55"/>
<rect x="1792.2" y="1426.3" width="12.9" height="116.4" fill="#1E9D86" fill-opacity="0.55"/>
<rect x="1845.1" y="1376.1" width="12.9" height="131.1" fill="#1E9D86" fill-opacity="0.55"/>
<rect x="1898" y="1328.7" width="12.9" height="150.5" fill="#1E9D86" fill-opacity="0.55"/>
<circle cx="1375.45" cy="1822.5" r="5.7" fill="#00A087"/>
<circle cx="1428.35" cy="1773.6" r="5.7" fill="#00A087"/>
<circle cx="1481.25" cy="1739" r="5.7" fill="#00A087"/>
<circle cx="1534.15" cy="1668.9" r="5.7" fill="#00A087"/>
<circle cx="1587.05" cy="1649.9" r="5.7" fill="#00A087"/>
<circle cx="1639.95" cy="1614" r="5.7" fill="#00A087"/>
<circle cx="1692.85" cy="1569.5" r="5.7" fill="#00A087"/>
<circle cx="1745.75" cy="1521.8" r="5.7" fill="#00A087"/>
<circle cx="1798.65" cy="1484.2" r="5.7" fill="#00A087"/>
<circle cx="1851.55" cy="1441.8" r="5.7" fill="#00A087"/>
<circle cx="1904.45" cy="1404" r="5.7" fill="#00A087"/>
<rect x="1350.4" y="1302.9" width="579.5" height="589.1" fill="none" stroke="#333333" stroke-width="2.2"/>
</g>
<line x1="129.7" x2="141.2" y1="1428.1" y2="1428.1" stroke="#333333" stroke-width="3.9"/>
<text transform="translate(120.3,1441.9) scale(1,1.04)" font-size="35.6" fill="#4D4D4D" text-anchor="end">0.2</text>
<line x1="129.7" x2="141.2" y1="1564.5" y2="1564.5" stroke="#333333" stroke-width="3.9"/>
<text transform="translate(120.3,1578.3) scale(1,1.04)" font-size="35.6" fill="#4D4D4D" text-anchor="end">0.1</text>
<line x1="129.7" x2="141.2" y1="1700.9" y2="1700.9" stroke="#333333" stroke-width="3.9"/>
<text transform="translate(120.3,1714.7) scale(1,1.04)" font-size="35.6" fill="#4D4D4D" text-anchor="end">0.0</text>
<line x1="129.7" x2="141.2" y1="1837.3" y2="1837.3" stroke="#333333" stroke-width="3.9"/>
<text transform="translate(120.3,1851.1) scale(1,1.04)" font-size="35.6" fill="#4D4D4D" text-anchor="end">-0.1</text>
<rect x="1928.95" y="74.6" width="4.3" height="591.65" fill="#555555"/>
<rect x="1928.95" y="689" width="4.3" height="590.7" fill="#555555"/>
<rect x="1928.95" y="1301.8" width="4.3" height="591.3" fill="#555555"/>
<line x1="167.4" x2="167.4" y1="1892.8" y2="1904.3" stroke="#333333" stroke-width="3.9"/>
<text transform="translate(167.4,1939.1) scale(1,1.04)" font-size="35.6" fill="#4D4D4D" text-anchor="middle">0.00</text>
<line x1="299.65" x2="299.65" y1="1892.8" y2="1904.3" stroke="#333333" stroke-width="3.9"/>
<text transform="translate(299.65,1939.1) scale(1,1.04)" font-size="35.6" fill="#4D4D4D" text-anchor="middle">0.25</text>
<line x1="431.9" x2="431.9" y1="1892.8" y2="1904.3" stroke="#333333" stroke-width="3.9"/>
<text transform="translate(431.9,1939.1) scale(1,1.04)" font-size="35.6" fill="#4D4D4D" text-anchor="middle">0.50</text>
<line x1="564.15" x2="564.15" y1="1892.8" y2="1904.3" stroke="#333333" stroke-width="3.9"/>
<text transform="translate(564.15,1939.1) scale(1,1.04)" font-size="35.6" fill="#4D4D4D" text-anchor="middle">0.75</text>
<line x1="696.4" x2="696.4" y1="1892.8" y2="1904.3" stroke="#333333" stroke-width="3.9"/>
<text transform="translate(696.4,1939.1) scale(1,1.04)" font-size="35.6" fill="#4D4D4D" text-anchor="middle">1.00</text>
<line x1="771.5" x2="771.5" y1="1892.8" y2="1904.3" stroke="#333333" stroke-width="3.9"/>
<text transform="translate(771.5,1939.1) scale(1,1.04)" font-size="35.6" fill="#4D4D4D" text-anchor="middle">0.00</text>
<line x1="903.75" x2="903.75" y1="1892.8" y2="1904.3" stroke="#333333" stroke-width="3.9"/>
<text transform="translate(903.75,1939.1) scale(1,1.04)" font-size="35.6" fill="#4D4D4D" text-anchor="middle">0.25</text>
<line x1="1036" x2="1036" y1="1892.8" y2="1904.3" stroke="#333333" stroke-width="3.9"/>
<text transform="translate(1036,1939.1) scale(1,1.04)" font-size="35.6" fill="#4D4D4D" text-anchor="middle">0.50</text>
<line x1="1168.25" x2="1168.25" y1="1892.8" y2="1904.3" stroke="#333333" stroke-width="3.9"/>
<text transform="translate(1168.25,1939.1) scale(1,1.04)" font-size="35.6" fill="#4D4D4D" text-anchor="middle">0.75</text>
<line x1="1300.5" x2="1300.5" y1="1892.8" y2="1904.3" stroke="#333333" stroke-width="3.9"/>
<text transform="translate(1300.5,1939.1) scale(1,1.04)" font-size="35.6" fill="#4D4D4D" text-anchor="middle">1.00</text>
<line x1="1375.45" x2="1375.45" y1="1892.8" y2="1904.3" stroke="#333333" stroke-width="3.9"/>
<text transform="translate(1375.45,1939.1) scale(1,1.04)" font-size="35.6" fill="#4D4D4D" text-anchor="middle">0.00</text>
<line x1="1507.7" x2="1507.7" y1="1892.8" y2="1904.3" stroke="#333333" stroke-width="3.9"/>
<text transform="translate(1507.7,1939.1) scale(1,1.04)" font-size="35.6" fill="#4D4D4D" text-anchor="middle">0.25</text>
<line x1="1639.95" x2="1639.95" y1="1892.8" y2="1904.3" stroke="#333333" stroke-width="3.9"/>
<text transform="translate(1639.95,1939.1) scale(1,1.04)" font-size="35.6" fill="#4D4D4D" text-anchor="middle">0.50</text>
<line x1="1772.2" x2="1772.2" y1="1892.8" y2="1904.3" stroke="#333333" stroke-width="3.9"/>
<text transform="translate(1772.2,1939.1) scale(1,1.04)" font-size="35.6" fill="#4D4D4D" text-anchor="middle">0.75</text>
<line x1="1904.45" x2="1904.45" y1="1892.8" y2="1904.3" stroke="#333333" stroke-width="3.9"/>
<text transform="translate(1904.45,1939.1) scale(1,1.04)" font-size="35.6" fill="#4D4D4D" text-anchor="middle">1.00</text>
<text x="1029.0" y="1988.9" font-size="44.45" fill="#000000" text-anchor="middle">Simulated proportion of inhabitants with outside village activities</text>
<text transform="translate(39.2,984.8) rotate(-90)" font-size="44.45" fill="#000000" text-anchor="middle">Standardized mean outcome</text>
</svg></body></html>
